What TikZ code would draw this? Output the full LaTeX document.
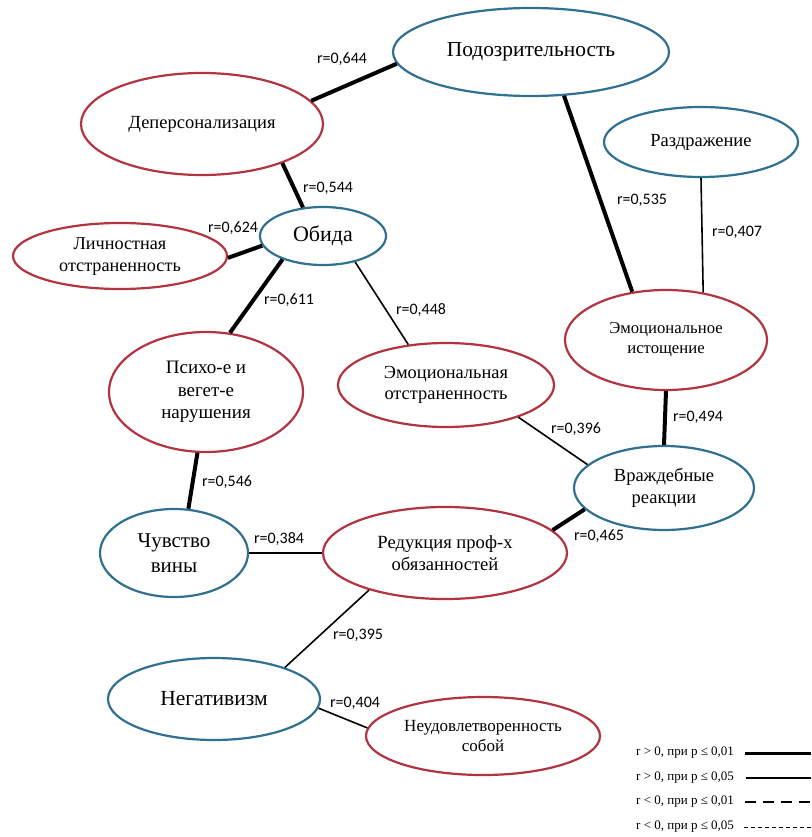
\documentclass[tikz,border=0pt]{standalone}
\usepackage{fontspec}
\setmainfont{Liberation Serif}
\newfontfamily\labfont{Carlito}
\usetikzlibrary{shapes.geometric}
\definecolor{redc}{RGB}{178,52,64}
\definecolor{bluec}{RGB}{48,112,145}
\tikzset{
  ovl/.style={ellipse, line width=2.2pt, inner sep=0pt, align=center, text=black},
  redn/.style={ovl, draw=redc},
  bluen/.style={ovl, draw=bluec},
  fs/.style 2 args={font=\fontsize{#1}{#2}\selectfont},
  strong/.style={line width=4pt, line cap=butt},
  weak/.style={line width=1.6pt, line cap=butt},
  lab/.style={font=\labfont\fontsize{16}{19}\selectfont, inner sep=0pt},
  leg/.style={font=\fontsize{13}{15}\selectfont, inner sep=0pt, anchor=west},
}
\begin{document}
\begin{tikzpicture}[x=1pt,y=-1pt]
\useasboundingbox[fill=white] (0,0) rectangle (811,837);

% nodes
\node[bluen, fs={21.4}{25}, minimum width=276pt, minimum height=88pt] (pod) at (531,52) {Подозрительность};
\node[redn, fs={18.5}{22}, minimum width=242pt, minimum height=102pt] (dep) at (202,124) {Деперсонализация};
\node[bluen, fs={18.5}{22}, minimum width=194pt, minimum height=70pt] (raz) at (701,142) {Раздражение};
\node[bluen, fs={22}{26}, minimum width=126pt, minimum height=58pt] (obi) at (323,236) {Обида};
\node[redn, fs={18.2}{21.5}, minimum width=214pt, minimum height=66pt] (lich) at (120,256) {\raisebox{-10pt}{\begin{tabular}{@{}c@{}}Личностная\\отстраненность\end{tabular}}};
\node[redn, fs={19}{22.5}, minimum width=194pt, minimum height=120pt] (psy) at (206,392) {Психо-е и\\вегет-е\\нарушения};
\node[redn, fs={18.4}{21}, minimum width=216pt, minimum height=84pt] (emo) at (446,385) {Эмоциональная\\отстраненность};
\node[redn, fs={16.7}{20}, minimum width=202pt, minimum height=100pt] (ist) at (666,340) {Эмоциональное\\истощение};
\node[bluen, fs={18.5}{22}, minimum width=180pt, minimum height=84pt] (vr) at (664,488) {Враждебные\\реакции};
\node[bluen, fs={21}{25}, minimum width=148pt, minimum height=88pt] (cv) at (174,553) {Чувство\\вины};
\node[redn, fs={18.6}{22}, minimum width=244pt, minimum height=92pt] (rd) at (445,553) {Редукция проф-х\\обязанностей};
\node[bluen, fs={21.5}{25}, minimum width=212pt, minimum height=82pt] (neg) at (214,699) {Негативизм};
\node[redn, fs={17}{20}, minimum width=234pt, minimum height=78pt] (neu) at (483,736) {Неудовлетворенность\\собой};

% connectors
\draw[strong] (dep.12) -- (pod.185);
\draw[strong] (dep.334) -- (obi.125);
\draw[strong] (lich.-1) -- (obi.189);
\draw[strong] (obi.210) -- (psy.68);
\draw[weak] (obi.321) -- (emo.133);
\draw[strong] (pod.307) -- (ist.125);
\draw[weak] (raz.south) -- (ist.52);
\draw[strong] (ist.south) -- (vr.north);
\draw[weak] (emo.336) -- (vr.163);
\draw[strong] (vr.195) -- (rd.12);
\draw[strong] (psy.262) -- (cv.72);
\draw[weak] (cv.east) -- (rd.west);
\draw[weak] (rd.206) -- (neg.24);
\draw[weak] (neg.355) -- (neu.176);

% labels
\node[lab] (l1) at (342,59) {r=0,644};
\node[lab] (l2) at (328,188) {r=0,544};
\node[lab] (l3) at (233,228) {r=0,624};
\node[lab] (l4) at (289,300) {r=0,611};
\node[lab] (l5) at (421,310) {r=0,448};
\node[lab] (l6) at (642,200) {r=0,535};
\node[lab] (l7) at (737,232) {r=0,407};
\node[lab] (l8) at (698,417) {r=0,494};
\node[lab] (l9) at (576,429) {r=0,396};
\node[lab] (l10) at (599,536) {r=0,465};
\node[lab] (l11) at (227,482) {r=0,546};
\node[lab] (l12) at (279,539) {r=0,384};
\node[lab] (l13) at (358,635) {r=0,395};
\node[lab] (l14) at (355,703) {r=0,404};

% legend
\node[leg] (g1) at (636,753) {r > 0, при p ≤ 0,01};
\node[leg] (g2) at (636,778) {r > 0, при p ≤ 0,05};
\node[leg] (g3) at (636,802) {r < 0, при p ≤ 0,01};
\node[leg] (g4) at (636,827) {r < 0, при p ≤ 0,05};
\draw[line width=3pt] (745,753) -- (811,753);
\draw[line width=1.2pt] (746,778) -- (811,778);
\draw[line width=2.5pt, dash pattern=on 11pt off 7pt] (745,802) -- (811,802);
\draw[line width=1pt, dash pattern=on 4pt off 3pt] (744,827) -- (811,827);
\end{tikzpicture}
\end{document}
